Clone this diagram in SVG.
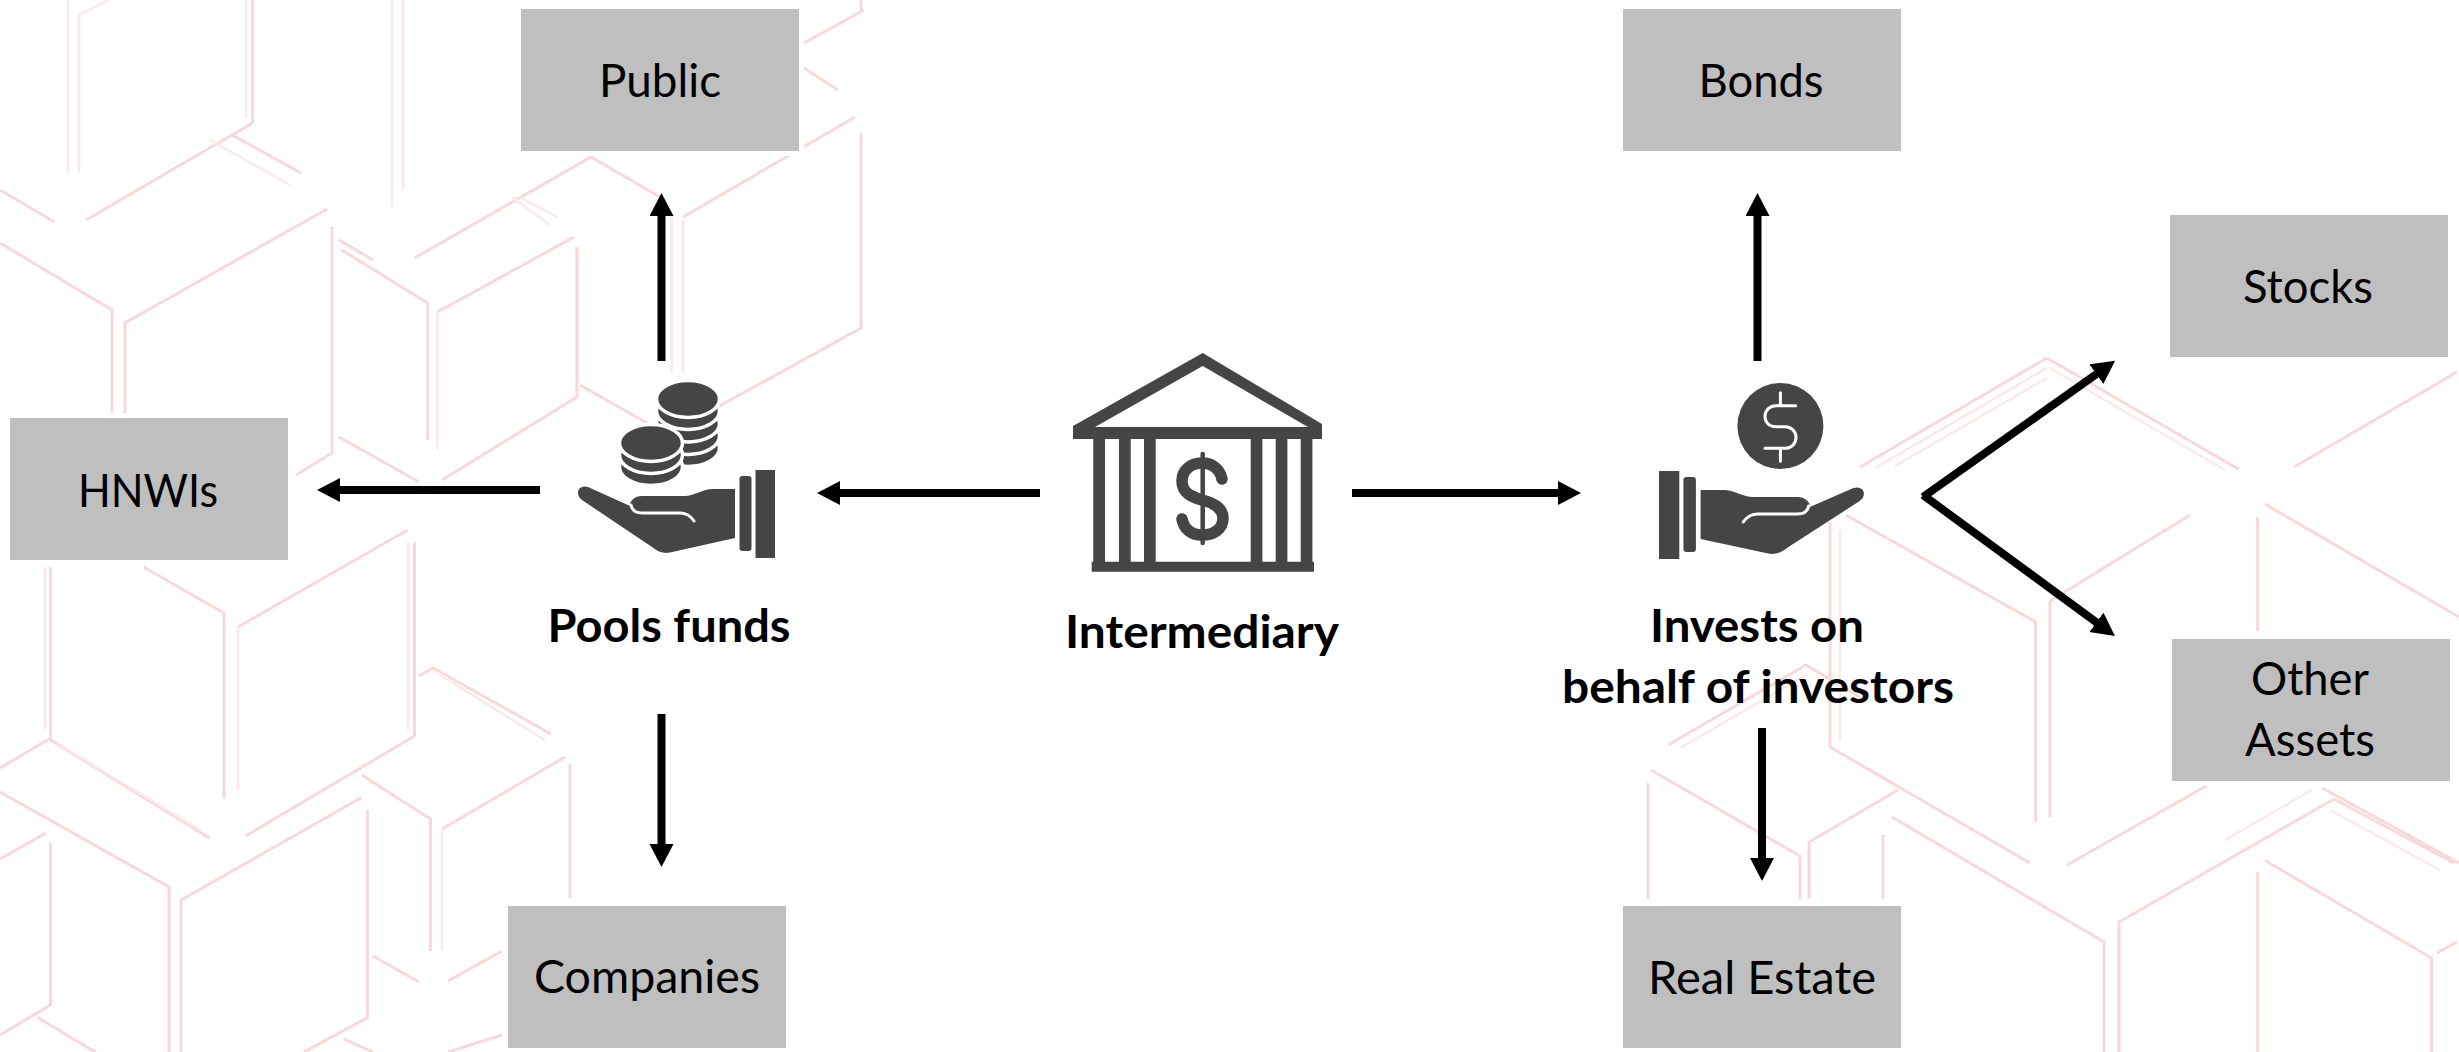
<svg xmlns="http://www.w3.org/2000/svg" xmlns:xlink="http://www.w3.org/1999/xlink" width="2459" height="1052" viewBox="0 0 2459 1052">
<style>
.bg{fill:none;stroke:#f8d9d9;stroke-width:3}
.bf{fill:none;stroke:#fbe8e8;stroke-width:2.500}
.box{fill:#bfbfbf;stroke:#fff;stroke-width:10;paint-order:stroke}
.t{font-family:"Lato","Carlito","Liberation Sans",sans-serif;font-size:46px;fill:#000;text-anchor:middle}
.b{font-weight:700}
.ic{fill:#454545}
.coin{fill:#454545;stroke:#fff;stroke-width:3.500}
.cr{fill:none;stroke:#fff;stroke-width:3;stroke-linecap:round}
.c{fill:none;stroke:#000;stroke-width:8}
</style>
<defs>
<filter id="soft" x="0" y="0" width="1" height="1"><feGaussianBlur stdDeviation="0.7"/></filter>
<marker id="ah" markerUnits="userSpaceOnUse" markerWidth="26" markerHeight="26" refX="2" refY="12" orient="auto"><polygon points="0,0 23,12 0,24" fill="#000"/></marker>
<g id="hand">
<rect class="ic" x="755.500" y="470" width="19.500" height="88"/>
<rect class="ic" x="739.500" y="476" width="12" height="75" rx="3"/>
<path class="ic" d="M735 489L712 489C700 490 694 496 685 496L642 496C634 496 629 502 630 506L588 487C584 485.500 580 487 578.500 490C577 494 579 498 582 500L652 547C658 552 664 554 670 552.500L735 538Z"/>
<path class="cr" d="M694 521C690 515 685 513 680 513L642 513C636 513 632 510 631 505"/>
</g>
</defs>
<rect width="2459" height="1052" fill="#fff"/>
<g id="background" filter="url(#soft)">
<path class="bg" d="M252.600 0V123L86 220M0 190L54.500 222M232.500 135L301 173M327 209L125 323V413M0 243L112 310V413M332 227V453L296 475M339 240L373 260M341.600 250L427.700 303V440M437.400 312L574 237M414.500 258L591 157L660 197M577 247V397L442 480M580 385L654 427M339 437L419 482M683 217L855 117M861 133V328L717.600 407M804 43L864 10M861 0V10M804 68L838 90"/>
<path class="bf" d="M68 0V173M79 173V15L109 0M392 0V207M403 0V190M246 0V118M437.400 312V450M671.600 217V373M683 217V373M519.500 197L557 217M512 197L550 225M210 140L290 185"/>
<path class="bg" d="M50.500 567V739M49 739L209.500 838M49 739L0 768M143.500 567L224 613V799M238 627L407.600 530M414.500 542V736L245.700 836M419 676L433 668L551 734M361.600 775L430.500 819V951M442 829L565 757M570 764V898M181 1052V900L361.600 797.500M367.400 810V1017.600L304 1052M0 792L169 887V1052M0 859L46 833M50.500 843V1005L0 1035M37 1017L95 1052M373 956L419 982M448 981L502 951M344 1039L373 1052M448 1052L502 1035"/>
<path class="bf" d="M45 567V730M238 627V790M408 542V730M442 829V950M60 745L200 830M440 675L545 740"/>
<path class="bg" d="M2047 358L1860 467M2047 358L2239 469.500M2457 372L2294 467M2265 504L2459 617M2257.600 517V631M1846 515L2035.500 622V822M2050 601L2190 515M2050 601V817M1830 522V747L2030 863M2067 865L2208 785M2322.500 788L2459 863M2265 860.500L2431.600 958V1052M2257.600 872V1052M2119 1052V922L2334 799M1892 817L2104 942V1052M1651 770L1800 856V899M1648 783V899M1809 899V842L1898 790M1668 745L1806 665L1863 699M1883 835V899M2457 942L2437 953M2334 799L2454 863"/>
<path class="bf" d="M2047 368L1875 468M2047 378L1895 466M2050 368L2225 470M1840 530V740M2312 790L2225 840M1806 675L1680 748M2330 810L2440 870"/>
</g>
<g id="connectors">
<path class="c" marker-end="url(#ah)" d="M661.500 361V214"/>
<path class="c" marker-end="url(#ah)" d="M540 490H338"/>
<path class="c" marker-end="url(#ah)" d="M661.500 714V846"/>
<path class="c" marker-end="url(#ah)" d="M1040 493H838"/>
<path class="c" marker-end="url(#ah)" d="M1352 493H1560"/>
<path class="c" marker-end="url(#ah)" d="M1757.500 361V214"/>
<path class="c" marker-end="url(#ah)" d="M1762 728V860"/>
<path class="c" marker-end="url(#ah)" d="M1923 497L2098 373"/>
<path class="c" marker-end="url(#ah)" d="M1923 495L2098 623.500"/>
</g>
<g id="public"><rect class="box" x="521" y="9" width="278" height="142"/><text class="t" x="660" y="97" textLength="122" lengthAdjust="spacingAndGlyphs">Public</text></g>
<g id="hnwis"><rect class="box" x="10" y="418" width="278" height="142"/><text class="t" x="148" y="507" textLength="140" lengthAdjust="spacingAndGlyphs">HNWIs</text></g>
<g id="companies"><rect class="box" x="508" y="906" width="278" height="142"/><text class="t" x="647" y="993" textLength="226" lengthAdjust="spacingAndGlyphs">Companies</text></g>
<g id="bonds"><rect class="box" x="1623" y="9" width="278" height="142"/><text class="t" x="1761" y="97" textLength="125" lengthAdjust="spacingAndGlyphs">Bonds</text></g>
<g id="stocks"><rect class="box" x="2170" y="215" width="278" height="142"/><text class="t" x="2308" y="303" textLength="130" lengthAdjust="spacingAndGlyphs">Stocks</text></g>
<g id="other-assets"><rect class="box" x="2172" y="639" width="278" height="142"/><text class="t" x="2310" y="695" textLength="118" lengthAdjust="spacingAndGlyphs">Other</text><text class="t" x="2310" y="756" textLength="130" lengthAdjust="spacingAndGlyphs">Assets</text></g>
<g id="real-estate"><rect class="box" x="1623" y="906" width="278" height="142"/><text class="t" x="1762" y="994" textLength="228" lengthAdjust="spacingAndGlyphs">Real Estate</text></g>
<g id="pools-funds">
<ellipse class="coin" cx="688" cy="448" rx="31.500" ry="18.500"/><ellipse class="coin" cx="688" cy="436" rx="31.500" ry="18.500"/><ellipse class="coin" cx="688" cy="423.500" rx="31.500" ry="18.500"/><ellipse class="coin" cx="688" cy="411" rx="31.500" ry="18.500"/><ellipse class="coin" cx="688" cy="399" rx="31.500" ry="18.500"/>
<ellipse class="coin" cx="651" cy="467" rx="31.500" ry="18.500"/><ellipse class="coin" cx="651" cy="455" rx="31.500" ry="18.500"/><ellipse class="coin" cx="651" cy="443" rx="31.500" ry="18.500"/>
<use xlink:href="#hand" href="#hand"/>
<text class="t b" x="669" y="642" textLength="243" lengthAdjust="spacingAndGlyphs">Pools funds</text>
</g>
<g id="intermediary">
<path class="ic" fill-rule="evenodd" d="M1202.700 353L1322 424V439H1073V426L1202.700 353ZM1202.700 366L1095 427H1308Z"/>
<path class="ic" d="M1093.300 439h11.700v123h-11.700zM1119 439h11.700v123h-11.700zM1144 439h11.700v123h-11.700zM1250.700 439h11.700v123h-11.700zM1275.700 439h11.700v123h-11.700zM1300.700 439h11.700v123h-11.700zM1091.700 561.700h222.300v10h-222.300z"/>
<path d="M1222 479C1220 469 1212 463 1202 463C1190 463 1182 471 1182 481C1182 493 1192 497 1202 500C1214 503 1223 508 1223 518C1223 529 1214 535 1202 535C1191 535 1184 529 1182 519" fill="none" stroke="#454545" stroke-width="11.500" stroke-linecap="round"/>
<path d="M1202.700 454V543" fill="none" stroke="#454545" stroke-width="4.500" stroke-linecap="round"/>
<text class="t b" x="1202" y="648" textLength="274" lengthAdjust="spacingAndGlyphs">Intermediary</text>
</g>
<g id="invests">
<circle class="ic" cx="1780.400" cy="426" r="43"/>
<path class="cr" stroke-width="4" d="M1795.700 405.700H1776C1770 405.700 1765 410 1765 416.500C1765 423 1770 426.700 1776 426.700H1785C1791 426.700 1796 431 1796 437.500C1796 444 1791 448.300 1785 448.300H1765M1780.400 392.700V405.700M1780.400 448.300V461.300"/>
<use xlink:href="#hand" href="#hand" transform="translate(2465 1) scale(-1.04 1)"/>
<text class="t b" x="1757" y="642" textLength="214" lengthAdjust="spacingAndGlyphs">Invests on</text>
<text class="t b" x="1758" y="703" textLength="392" lengthAdjust="spacingAndGlyphs">behalf of investors</text>
</g>
</svg>
